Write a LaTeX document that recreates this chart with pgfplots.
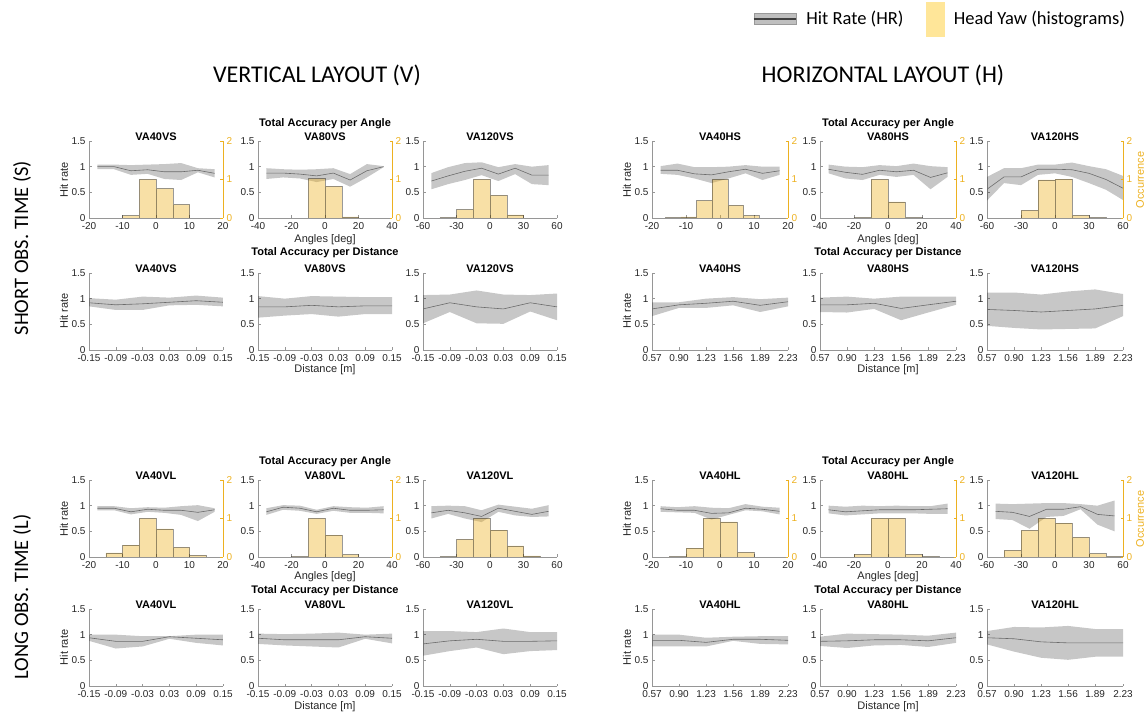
\documentclass[border=0pt]{standalone}
\usepackage{fontspec}
\setmainfont{Liberation Sans}
\newfontfamily\carlito{Carlito}
\usepackage{pgfplots}
\usepackage{pgfplotstable}
\pgfplotsset{compat=1.18}
\usepgfplotslibrary{fillbetween}

\definecolor{myel}{RGB}{237,177,32}
\definecolor{axgray}{RGB}{150,150,150}
\definecolor{txt}{RGB}{38,38,38}
\definecolor{legyel}{RGB}{255,230,153}

% ---------- angle data: x, mean hit rate, band low, band high ----------
\pgfplotstableread[row sep=\\]{x m lo hi\\ -17.5 1.00 0.95 1.04\\ -12.5 1.00 0.95 1.04\\ -7.5 0.92 0.84 1.03\\ -2.5 0.94 0.86 1.04\\ 2.5 0.90 0.76 1.05\\ 7.5 0.90 0.74 1.07\\ 12.5 0.93 0.89 0.97\\ 17.5 0.87 0.79 0.95\\}\aAVS
\pgfplotstableread[row sep=\\]{x m lo hi\\ -35 0.875 0.76 0.97\\ -25 0.875 0.79 0.95\\ -15 0.855 0.77 0.94\\ -5 0.82 0.70 0.95\\ 5 0.875 0.76 0.97\\ 15 0.74 0.61 0.855\\ 25 0.92 0.79 1.05\\ 35 1.00 0.99 1.01\\}\aBVS
\pgfplotstableread[row sep=\\]{x m lo hi\\ -52.5 0.72 0.56 0.875\\ -37.5 0.82 0.66 0.99\\ -22.5 0.91 0.74 1.07\\ -7.5 0.97 0.835 1.085\\ 7.5 0.855 0.72 0.99\\ 22.5 0.97 0.855 1.05\\ 37.5 0.835 0.66 1.00\\ 52.5 0.835 0.64 1.03\\}\aCVS
\pgfplotstableread[row sep=\\]{x m lo hi\\ -17.5 0.93 0.86 1.01\\ -12.5 0.93 0.84 1.06\\ -7.5 0.86 0.77 0.99\\ -2.5 0.84 0.68 0.99\\ 2.5 0.90 0.77 1.00\\ 7.5 0.95 0.87 1.03\\ 12.5 0.87 0.74 1.00\\ 17.5 0.92 0.84 1.00\\}\aAHS
\pgfplotstableread[row sep=\\]{x m lo hi\\ -35 0.95 0.87 1.04\\ -25 0.89 0.77 1.00\\ -15 0.85 0.74 0.99\\ -5 0.93 0.84 1.03\\ 5 0.90 0.80 1.01\\ 15 0.93 0.84 1.06\\ 25 0.79 0.56 1.01\\ 35 0.88 0.80 0.99\\}\aBHS
\pgfplotstableread[row sep=\\]{x m lo hi\\ -60 0.56 0.34 0.80\\ -45 0.80 0.68 0.97\\ -30 0.80 0.64 0.97\\ -15 0.95 0.84 1.04\\ 0 0.95 0.87 1.04\\ 15 0.94 0.80 1.08\\ 30 0.87 0.68 1.01\\ 45 0.75 0.55 0.95\\ 60 0.58 0.35 0.82\\}\aCHS
\pgfplotstableread[row sep=\\]{x m lo hi\\ -17.5 0.95 0.91 0.99\\ -12.5 0.95 0.91 0.99\\ -7.5 0.88 0.83 0.95\\ -2.5 0.93 0.88 0.97\\ 2.5 0.91 0.86 0.96\\ 7.5 0.91 0.82 0.99\\ 12.5 0.87 0.70 1.01\\ 17.5 0.92 0.88 0.95\\}\aAVL
\pgfplotstableread[row sep=\\]{x m lo hi\\ -35 0.88 0.82 0.95\\ -25 0.97 0.92 1.01\\ -15 0.95 0.90 1.00\\ -5 0.88 0.84 0.92\\ 5 0.95 0.90 0.99\\ 15 0.91 0.86 0.97\\ 25 0.91 0.86 0.96\\ 35 0.92 0.85 0.99\\}\aBVL
\pgfplotstableread[row sep=\\]{x m lo hi\\ -52.5 0.86 0.75 0.99\\ -37.5 0.91 0.84 1.00\\ -22.5 0.86 0.75 0.99\\ -7.5 0.79 0.68 0.91\\ 7.5 0.95 0.88 1.02\\ 22.5 0.89 0.81 0.98\\ 37.5 0.83 0.78 0.94\\ 52.5 0.89 0.79 1.01\\}\aCVL
\pgfplotstableread[row sep=\\]{x m lo hi\\ -17.5 0.94 0.88 0.99\\ -12.5 0.91 0.87 0.97\\ -7.5 0.91 0.86 0.99\\ -2.5 0.85 0.73 0.96\\ 2.5 0.86 0.82 0.95\\ 7.5 0.95 0.91 1.03\\ 12.5 0.93 0.89 0.98\\ 17.5 0.89 0.83 0.96\\}\aAHL
\pgfplotstableread[row sep=\\]{x m lo hi\\ -35 0.92 0.85 1.00\\ -25 0.88 0.81 0.98\\ -15 0.90 0.83 1.00\\ -5 0.92 0.85 0.99\\ 5 0.92 0.85 1.00\\ 15 0.92 0.85 0.99\\ 25 0.93 0.84 0.99\\ 35 0.94 0.84 1.04\\}\aBHL
\pgfplotstableread[row sep=\\]{x m lo hi\\ -52.5 0.89 0.74 1.04\\ -37.5 0.87 0.72 1.03\\ -22.5 0.79 0.55 1.04\\ -7.5 0.93 0.78 1.05\\ 7.5 0.93 0.80 1.05\\ 22.5 0.98 0.93 1.03\\ 37.5 0.83 0.63 1.00\\ 52.5 0.80 0.50 1.10\\}\aCHL

% ---------- distance data ----------
\pgfplotstableread[row sep=\\]{x m lo hi\\ -0.15 0.92 0.85 1.01\\ -0.09 0.88 0.78 0.98\\ -0.03 0.90 0.78 1.04\\ 0.03 0.93 0.87 1.02\\ 0.09 0.96 0.88 1.06\\ 0.15 0.93 0.85 1.02\\}\dAVS
\pgfplotstableread[row sep=\\]{x m lo hi\\ -0.15 0.84 0.63 1.05\\ -0.09 0.84 0.67 1.00\\ -0.03 0.87 0.70 1.05\\ 0.03 0.84 0.65 1.04\\ 0.09 0.86 0.70 1.03\\ 0.15 0.86 0.70 1.03\\}\dBVS
\pgfplotstableread[row sep=\\]{x m lo hi\\ -0.15 0.80 0.52 1.07\\ -0.09 0.92 0.74 1.08\\ -0.03 0.84 0.52 1.16\\ 0.03 0.80 0.51 1.08\\ 0.09 0.92 0.75 1.07\\ 0.15 0.84 0.58 1.10\\}\dCVS
\pgfplotstableread[row sep=\\]{x m lo hi\\ 0.57 0.80 0.66 0.93\\ 0.90 0.88 0.82 0.93\\ 1.23 0.91 0.82 1.00\\ 1.56 0.95 0.87 1.03\\ 1.89 0.87 0.74 0.99\\ 2.23 0.94 0.85 1.02\\}\dAHS
\pgfplotstableread[row sep=\\]{x m lo hi\\ 0.57 0.88 0.74 1.02\\ 0.90 0.88 0.73 1.04\\ 1.23 0.91 0.80 1.00\\ 1.56 0.81 0.58 1.04\\ 1.89 0.88 0.73 1.04\\ 2.23 0.95 0.88 1.04\\}\dBHS
\pgfplotstableread[row sep=\\]{x m lo hi\\ 0.57 0.79 0.47 1.12\\ 0.90 0.77 0.43 1.12\\ 1.23 0.74 0.40 1.08\\ 1.56 0.77 0.41 1.14\\ 1.89 0.80 0.42 1.18\\ 2.23 0.87 0.66 1.09\\}\dCHS
\pgfplotstableread[row sep=\\]{x m lo hi\\ -0.15 0.94 0.88 1.00\\ -0.09 0.87 0.73 1.00\\ -0.03 0.87 0.77 0.97\\ 0.03 0.96 0.92 0.97\\ 0.09 0.93 0.84 1.00\\ 0.15 0.90 0.79 1.00\\}\dAVL
\pgfplotstableread[row sep=\\]{x m lo hi\\ -0.15 0.93 0.82 1.02\\ -0.09 0.90 0.79 1.01\\ -0.03 0.90 0.77 1.02\\ 0.03 0.90 0.75 1.04\\ 0.09 0.96 0.92 1.00\\ 0.15 0.93 0.83 1.02\\}\dBVL
\pgfplotstableread[row sep=\\]{x m lo hi\\ -0.15 0.82 0.59 1.07\\ -0.09 0.88 0.68 1.07\\ -0.03 0.91 0.75 1.05\\ 0.03 0.87 0.62 1.12\\ 0.09 0.87 0.68 1.05\\ 0.15 0.88 0.70 1.05\\}\dCVL
\pgfplotstableread[row sep=\\]{x m lo hi\\ 0.57 0.89 0.77 1.00\\ 0.90 0.89 0.77 1.00\\ 1.23 0.85 0.77 0.94\\ 1.56 0.91 0.88 0.96\\ 1.89 0.91 0.82 0.97\\ 2.23 0.89 0.81 0.97\\}\dAHL
\pgfplotstableread[row sep=\\]{x m lo hi\\ 0.57 0.87 0.78 0.96\\ 0.90 0.88 0.74 1.02\\ 1.23 0.90 0.79 1.01\\ 1.56 0.90 0.80 1.00\\ 1.89 0.88 0.76 0.98\\ 2.23 0.94 0.84 1.04\\}\dBHL
\pgfplotstableread[row sep=\\]{x m lo hi\\ 0.57 0.94 0.81 1.07\\ 0.90 0.92 0.67 1.15\\ 1.23 0.86 0.55 1.14\\ 1.56 0.84 0.51 1.17\\ 1.89 0.84 0.57 1.11\\ 2.23 0.84 0.57 1.11\\}\dCHL

\pgfplotsset{
  base/.style={scale only axis, height=77pt, anchor=south west, enlargelimits=false,
    tick label style={font=\fontsize{10}{11}\selectfont},
    /pgf/number format/assume math mode=true,
    tick align=inside, major tick length=2.5pt},
  hr/.style={base, axis x line*=bottom, axis y line*=left,
    axis line style={draw=axgray, line width=0.5pt, -},
    tick style={draw=axgray, line width=0.5pt},
    tick label style={text=txt},
    xticklabel style={yshift=-1pt},
    ymin=0, ymax=1.5, ytick={0,0.5,1,1.5}, yticklabels={0,0.5,1,1.5},
    title style={font=\bfseries\fontsize{11}{12}\selectfont, at={(0.5,1)}, anchor=base, yshift=-6pt, inner sep=0pt}},
  hist/.style={base, axis x line=none, axis y line*=right,
    ymin=0, ymax=2, ytick={0,1,2}, yticklabels={0,1,2},
    axis line style={draw=myel, line width=0.6pt, -}, tick style={draw=myel},
    yticklabel style={text=myel}},
  angA/.style={xmin=-20, xmax=20, xtick={-20,-10,0,10,20}, xticklabels={-20,-10,0,10,20}},
  angB/.style={xmin=-40, xmax=40, xtick={-40,-20,0,20,40}, xticklabels={-40,-20,0,20,40}},
  angC/.style={xmin=-60, xmax=60, xtick={-60,-30,0,30,60}, xticklabels={-60,-30,0,30,60}},
  distV/.style={xmin=-0.15, xmax=0.15, xtick={-0.15,-0.09,-0.03,0.03,0.09,0.15}, xticklabels={-0.15,-0.09,-0.03,0.03,0.09,0.15}},
  distH/.style={xmin=0.57, xmax=2.23, xtick={0.57,0.90,1.23,1.56,1.89,2.23}, xticklabels={0.57,0.90,1.23,1.56,1.89,2.23}},
}

\newcommand\HRp[5]{%
\begin{axis}[hr, at={(#1pt,#2pt)}, width=#3pt, #4]
\addplot[name path=up, draw=none, forget plot] table[x=x,y=hi]{#5};
\addplot[name path=lo, draw=none, forget plot] table[x=x,y=lo]{#5};
\addplot[fill=black, fill opacity=0.22, draw=none, forget plot] fill between[of=up and lo];
\addplot[black!58, line width=0.6pt, forget plot] table[x=x,y=m]{#5};
\end{axis}}

\newcommand\HISTp[5]{%
\begin{axis}[hist, at={(#1pt,#2pt)}, width=#3pt, #4, xtick=\empty]
\addplot[ybar interval, fill=myel, fill opacity=0.4, draw=black, draw opacity=0.4, line width=0.5pt] coordinates {#5};
\end{axis}}

\begin{document}
\begin{tikzpicture}[x=1pt,y=1pt]
\path (0,0) rectangle (1148,712);

% ===================== ROW 1: angle, short =====================
\HISTp{89}{494}{134}{angA}{(-10,0.06)(-5,1.0)(0,0.76)(5,0.35)(10,0)}
\HRp{89}{494}{134}{angA, title={VA40VS}}{\aAVS}
\HISTp{258}{494}{134}{angB}{(-10,1.02)(0,0.82)(10,0.03)(20,0)}
\HRp{258}{494}{134}{angB, title={VA80VS}}{\aBVS}
\HISTp{423}{494}{134}{angC, axis y line=none}{(-45,0.01)(-30,0.22)(-15,1.0)(0,0.59)(15,0.08)(30,0)}
\HRp{423}{494}{134}{angC, title={VA120VS}}{\aCVS}

\HISTp{652}{494}{136}{angA}{(-16.1,0.01)(-11.5,0.03)(-6.9,0.45)(-2.3,1.0)(2.3,0.33)(6.9,0.06)(11.5,0)}
\HRp{652}{494}{136}{angA, title={VA40HS}}{\aAHS}
\HISTp{820}{494}{136}{angB}{(-20,0.01)(-10,1.0)(0,0.42)(10,0.01)(20,0)}
\HRp{820}{494}{136}{angB, title={VA80HS}}{\aBHS}
\HISTp{987}{494}{136}{angC}{(-30,0.2)(-15,0.99)(0,1.01)(15,0.07)(30,0.01)(45,0)}
\HRp{987}{494}{136}{angC, title={VA120HS}}{\aCHS}

% ===================== ROW 2: distance, short =====================
\HRp{89}{362}{134}{distV, title={VA40VS}}{\dAVS}
\HRp{258}{362}{134}{distV, title={VA80VS}}{\dBVS}
\HRp{423}{362}{134}{distV, title={VA120VS}}{\dCVS}
\HRp{652}{362}{136}{distH, title={VA40HS}}{\dAHS}
\HRp{820}{362}{136}{distH, title={VA80HS}}{\dBHS}
\HRp{987}{362}{136}{distH, title={VA120HS}}{\dCHS}

% ===================== ROW 3: angle, long =====================
\HISTp{89}{155}{134}{angA}{(-15,0.11)(-10,0.31)(-5,1.0)(0,0.73)(5,0.25)(10,0.04)(15,0)}
\HRp{89}{155}{134}{angA, title={VA40VL}}{\aAVL}
\HISTp{258}{155}{134}{angB}{(-20,0.01)(-10,1.0)(0,0.57)(10,0.06)(20,0)}
\HRp{258}{155}{134}{angB, title={VA80VL}}{\aBVL}
\HISTp{423}{155}{134}{angC, axis y line=none}{(-45,0.01)(-30,0.46)(-15,1.0)(0,0.70)(15,0.29)(30,0.03)(45,0)}
\HRp{423}{155}{134}{angC, title={VA120VL}}{\aCVL}

\HISTp{652}{155}{136}{angA}{(-15,0.01)(-10,0.23)(-5,1.0)(0,0.91)(5,0.12)(10,0)}
\HRp{652}{155}{136}{angA, title={VA40HL}}{\aAHL}
\HISTp{820}{155}{136}{angB}{(-20,0.07)(-10,1.0)(0,1.0)(10,0.07)(20,0.01)(30,0)}
\HRp{820}{155}{136}{angB, title={VA80HL}}{\aBHL}
\HISTp{987}{155}{136}{angC}{(-45,0.17)(-30,0.69)(-15,1.0)(0,0.88)(15,0.51)(30,0.09)(45,0.01)(60,0)}
\HRp{987}{155}{136}{angC, title={VA120HL}}{\aCHL}

% ===================== ROW 4: distance, long =====================
\HRp{89}{26}{134}{distV, title={VA40VL}}{\dAVL}
\HRp{258}{26}{134}{distV, title={VA80VL}}{\dBVL}
\HRp{423}{26}{134}{distV, title={VA120VL}}{\dCVL}
\HRp{652}{26}{136}{distH, title={VA40HL}}{\dAHL}
\HRp{820}{26}{136}{distH, title={VA80HL}}{\dBHL}
\HRp{987}{26}{136}{distH, title={VA120HL}}{\dCHL}

% ===================== labels =====================
\begin{scope}[every node/.style={font=\fontsize{11}{12}\selectfont, text=txt, inner sep=1pt}]
\foreach \yy in {532,401,193,64.5} {
  \node[rotate=90] at (64,\yy) {Hit rate};
  \node[rotate=90] at (627,\yy) {Hit rate};
}
\node at (325,472) {Angles [deg]};
\node at (888,472) {Angles [deg]};
\node at (325,135) {Angles [deg]};
\node at (888,135) {Angles [deg]};
\node[inner sep=0pt] at (325,342.5) {Distance [m]};
\node[inner sep=0pt] at (888,342.5) {Distance [m]};
\node[inner sep=0pt] at (325,5.5) {Distance [m]};
\node[inner sep=0pt] at (888,5.5) {Distance [m]};
\node[rotate=90, text=myel] at (1140,532) {Occurrence};
\node[rotate=90, text=myel] at (1140,193) {Occurrence};
\end{scope}
\begin{scope}[every node/.style={font=\bfseries\fontsize{11}{12}\selectfont, inner sep=1pt}]
\node at (325,588) {Total Accuracy per Angle};
\node at (888,588) {Total Accuracy per Angle};
\node at (325,250) {Total Accuracy per Angle};
\node at (888,250) {Total Accuracy per Angle};
\node at (325,459) {Total Accuracy per Distance};
\node at (888,459) {Total Accuracy per Distance};
\node at (325,121) {Total Accuracy per Distance};
\node at (888,121) {Total Accuracy per Distance};
\end{scope}
\begin{scope}[every node/.style={font=\carlito\fontsize{24}{26}\selectfont, inner sep=1pt}]
\node at (317,637) {VERTICAL LAYOUT (V)};
\node at (883,637) {HORIZONTAL LAYOUT (H)};
\end{scope}
\begin{scope}[every node/.style={font=\carlito\fontsize{20.5}{22}\selectfont, inner sep=1pt}]
\node[rotate=90] at (22,464) {SHORT OBS. TIME (S)};
\node[rotate=90] at (22,115) {LONG OBS. TIME (L)};
\end{scope}

% ===================== legend =====================
\begin{axis}[hide axis, scale only axis, width=1148pt, height=712pt, at={(0pt,0pt)}, anchor=south west,
  xmin=0, xmax=1, ymin=0, ymax=1,
  legend columns=2, legend cell align=left,
  legend style={draw=none, fill=none, at={(axis description cs:0.6557,0.9735)}, anchor=west,
    inner sep=0pt, font=\carlito\fontsize{18.5}{20}\selectfont,
    /tikz/every odd column/.append style={column sep=8pt},
    /tikz/every even column/.append style={column sep=20pt}}]
\addlegendimage{legend image code/.code={\draw[fill=black!25, draw=black!40] (0pt,-5.5pt) rectangle (42pt,5.5pt); \draw[black!75, line width=1.5pt] (0pt,0pt) -- (42pt,0pt);}}
\addlegendentry{Hit Rate (HR)}
\addlegendimage{legend image code/.code={\fill[legyel] (0pt,-17pt) rectangle (18pt,17pt);}}
\addlegendentry{Head Yaw (histograms)}
\end{axis}
\end{tikzpicture}
\end{document}
